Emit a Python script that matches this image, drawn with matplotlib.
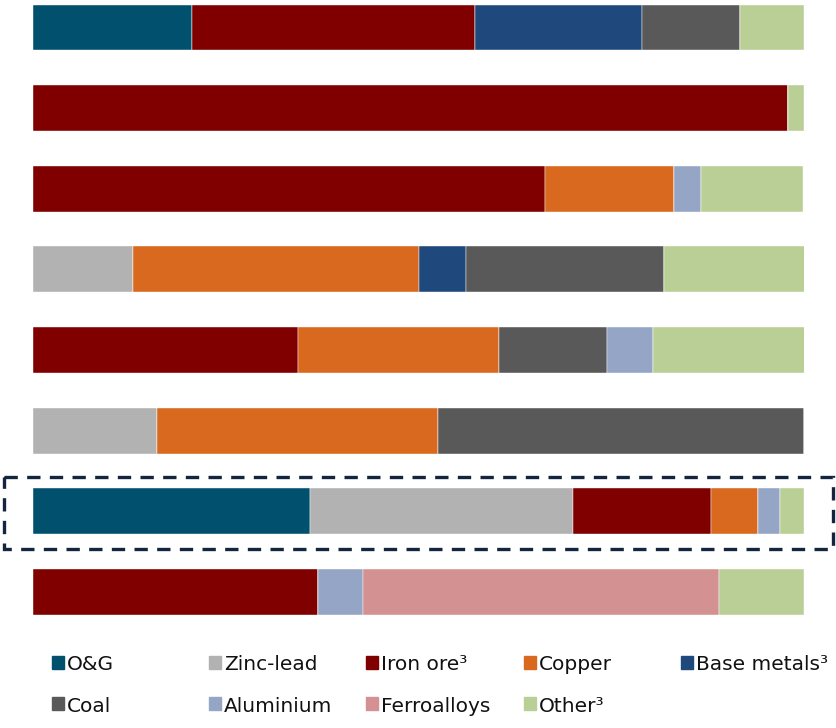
import matplotlib
matplotlib.use("Agg")
import matplotlib.pyplot as plt
from matplotlib.patches import Rectangle
import numpy as np

# share of each bar (%), one list per commodity, bars top to bottom
commodities = ["O&G", "Zinc-lead", "Iron ore³", "Copper", "Base metals³",
               "Coal", "Aluminium", "Ferroalloys", "Other³"]
colors = ["#00506e", "#b2b2b2", "#800000", "#d9691e", "#1f497d",
          "#595959", "#95a5c6", "#d39191", "#b9cf96"]

og          = [20.6, 0,    0,    0,    0,    0,    35.9, 0]
zinc_lead   = [0,    0,    0,    13.0, 0,    16.1, 34.1, 0]
iron_ore    = [36.7, 97.9, 66.4, 0,    34.4, 0,    18.0, 37.0]
copper      = [0,    0,    16.7, 37.0, 26.1, 36.4, 6.0,  0]
base_metals = [21.7, 0,    0,    6.2,  0,    0,    0,    0]
coal        = [12.7, 0,    0,    25.7, 13.9, 47.5, 0,    0]
aluminium   = [0,    0,    3.6,  0,    6.0,  0,    2.9,  5.8]
ferroalloys = [0,    0,    0,    0,    0,    0,    0,    46.2]
other       = [8.3,  2.1,  13.2, 18.2, 19.7, 0,    3.1,  11.0]

series = {"O&G": og, "Zinc-lead": zinc_lead, "Iron ore³": iron_ore,
          "Copper": copper, "Base metals³": base_metals, "Coal": coal,
          "Aluminium": aluminium, "Ferroalloys": ferroalloys, "Other³": other}
color_of = dict(zip(commodities, colors))

n_bars = len(og)
highlight = 6

plt.rcParams['font.family'] = ['DejaVu Sans']
fig = plt.figure(figsize=(8.37, 7.28), dpi=100)
ax = fig.add_axes([33/837, 0, 771/837, 1])

y = np.arange(n_bars)
left = np.zeros(n_bars)
for name in commodities:
    vals = np.array(series[name], dtype=float)
    ax.barh(y, vals, left=left, height=0.57, color=color_of[name],
            edgecolor='white', linewidth=0.3)
    left += vals

ax.set_xlim(0, 100)
ax.set_ylim(8.685, -0.341)
ax.axis('off')

# dashed box around the highlighted bar
ax.add_patch(Rectangle((-3.75, highlight - 0.43), 107.55, 0.89, fill=False,
                       edgecolor='#14263f', linewidth=2.4,
                       linestyle=(0, (4, 2.8)), clip_on=False))

# legend, two rows of five columns
for i, name in enumerate(commodities):
    row, col = divmod(i, 5)
    x0 = (52 + col * 157.2) / 837
    ymid = 665 + row * 41
    fig.patches.append(Rectangle((x0, 1 - 669/728 - row * 41/728), 12/837, 13/728,
                                 transform=fig.transFigure,
                                 color=color_of[name]))
    fig.text(x0 + 15/837, 1 - ymid/728, name, fontsize=14.5, va='center',
             ha='left', color='#111111')

fig.savefig("out.png", dpi=100)
